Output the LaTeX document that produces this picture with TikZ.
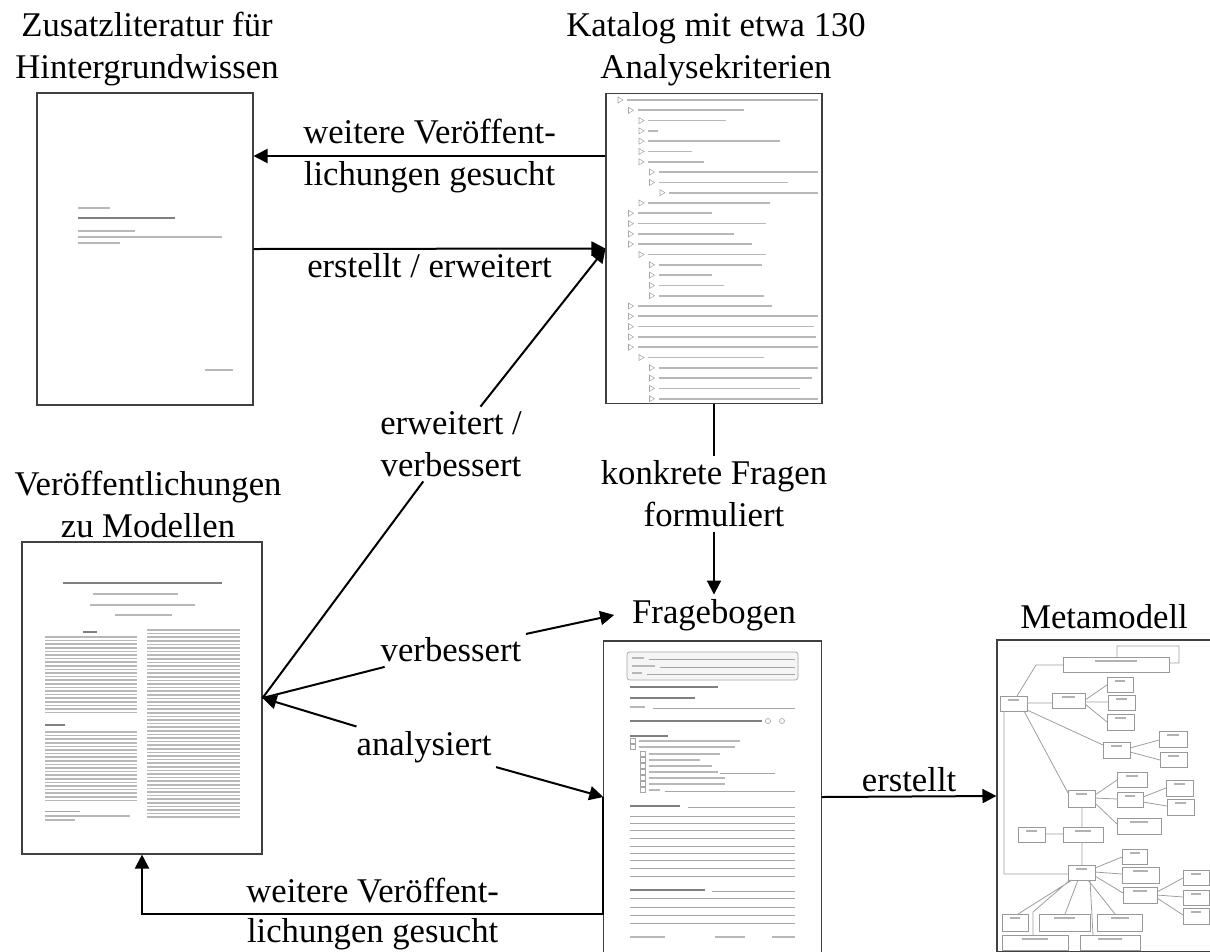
\documentclass[tikz,border=0pt]{standalone}
\usepackage{fontspec}
\setmainfont{Liberation Serif}
\usetikzlibrary{arrows.meta}

\tikzset{
  docbox/.style={draw=black!75, line width=0.8pt, inner sep=0pt},
  conn/.style={line width=1.5pt, -{Triangle[length=10.5pt,width=10.5pt]}},
  plainconn/.style={line width=1.5pt},
  lbl/.style={align=center},
  faint/.style={black!28, line width=1.3pt},
  heavy/.style={black!50, line width=1.8pt},
  rule/.style={black!35, line width=0.5pt},
  umlbox/.style={draw=black!40, line width=0.6pt},
  umlline/.style={black!38, line width=0.6pt},
}

\begin{document}
\begin{tikzpicture}[x=0.75pt,y=0.75pt,yscale=-1,xscale=1, font=\fontsize{26}{31.5}\selectfont]
    \useasboundingbox (0,0) rectangle (1210,951);

    %Shape: Documents
    \node[docbox, minimum width=162pt, minimum height=234pt] (zusatz) at (145,249) {};
    \node[docbox, minimum width=162pt, minimum height=233pt] (katalog) at (714,248.5) {};
    \node[docbox, minimum width=180pt, minimum height=234pt] (publ) at (142,698) {};
    \node[docbox, minimum width=163pt, minimum height=234pt] (frage) at (712.5,797) {};
    \node[docbox, minimum width=180pt, minimum height=234pt] (meta) at (1117,796) {};

    %Content: title page
    \draw[faint] (78,208) -- (110,208);
    \draw[heavy] (78,218) -- (175,218);
    \draw[faint] (78,231) -- (135,231) (78,237) -- (222,237) (78,243) -- (120,243) (205,370) -- (233,370);

    %Content: criteria tree
    \foreach \r/\l/\e in {1/0/818,2/1/744,3/2/726,4/2/658,5/2/780,6/2/692,7/2/704,8/3/818,9/3/788,10/4/818,
        11/2/770,12/1/712,13/1/766,14/1/734,15/1/752,16/2/766,17/3/762,18/3/712,19/3/724,20/3/764,
        21/1/772,22/1/818,23/1/814,24/1/816,25/1/818,26/2/764,27/3/818,28/3/812,29/3/800,30/3/818}{
      \pgfmathsetmacro{\ry}{89.7+10.3*\r}
      \pgfmathsetmacro{\rx}{627+10.5*\l}
      \draw[faint] (\rx,\ry) -- (\e,\ry);
      \draw[black!35, line width=0.4pt] (\rx-9,\ry-3) -- (\rx-4,\ry) -- (\rx-9,\ry+3) -- cycle;
    }

    %Content: paper
    \draw[heavy] (63,583) -- (222,583);
    \draw[faint] (93,594) -- (178,594) (90,605) -- (195,605) (115,615) -- (172,615);
    \draw[heavy] (83,632) -- (97,632) (45,725) -- (65,725);
    \foreach \y in {637,640.6,...,716} \draw[faint] (45,\y) -- (137,\y);
    \foreach \y in {732,735.6,...,804} \draw[faint] (45,\y) -- (137,\y);
    \foreach \y in {630,633.6,...,818} \draw[faint] (147,\y) -- (240,\y);
    \draw[rule] (45,811) -- (80,811);
    \draw[faint] (45,816) -- (130,816) (45,820) -- (75,820);

    %Content: questionnaire
    \draw[rule, fill=black!4, rounded corners=2pt] (627,652) rectangle (798,680);
    \foreach \y/\a in {658/644,666/655,673/642}{
      \draw[faint] (632,\y) -- (\a,\y);
      \draw[rule] (\a+5,\y+1.5) -- (795,\y+1.5);
    }
    \draw[heavy] (630,687) -- (718,687) (630,698) -- (695,698) (630,721) -- (762,721) (630,736) -- (668,736);
    \draw[faint] (630,707) -- (645,707);
    \draw[rule] (653,708.5) -- (795,708.5);
    \draw[rule] (768,721) circle (2.5) (782,721) circle (2.5);
    \foreach \y/\e in {741/740,747/735}{
      \draw[rule] (630,\y-2.5) rectangle (635,\y+2.5);
      \draw[faint] (639,\y) -- (\e,\y);
    }
    \foreach \y/\e in {754/720,760/700,766/712,772/718,778/725,784/725,790/660}{
      \draw[rule] (640,\y-2.5) rectangle (645,\y+2.5);
      \draw[faint] (649,\y) -- (\e,\y);
    }
    \draw[rule] (720,773.5) -- (775,773.5) (665,791.5) -- (795,791.5);
    \draw[heavy] (630,806) -- (680,806) (630,890) -- (705,890);
    \draw[rule] (688,807.5) -- (795,807.5) (712,891.5) -- (795,891.5);
    \foreach \y in {816,823,830,838,846,853,860,868,876,898,907,915,923} \draw[rule] (630,\y) -- (795,\y);
    \draw[faint] (630,937) -- (665,937) (715,937) -- (745,937) (772,937) -- (795,937);

    %Content: metamodel
    \foreach \a/\b/\c/\d in {1063/657/1169/672,1000/696/1027/711,1052/693/1085/708,1107/677/1133/692,
        1108/695/1135/710,1107/714/1134/730,1103/742/1130/758,1159/731/1187/747,1160/752/1187/767,
        1117/772/1147/787,1068/790/1095/807,1117/792/1143/807,1166/780/1193/796,1167/799/1194/815,
        1117/818/1161/834,1018/827/1045/842,1063/827/1103/842,1122/849/1147/864,1068/865/1095/880,
        1122/867/1159/883,1123/887/1157/903,1183/870/1209/885,1183/890/1209/905,1183/908/1209/924,
        1002/914/1028/931,1039/914/1090/931,1097/914/1142/931,1002/935/1068/950,1080/935/1140/950}{
      \draw[umlbox] (\a,\b) rectangle (\c,\d);
      \draw[black!30, line width=0.8pt] ({\a+0.3*(\c-\a)},{\b+4}) -- ({\c-0.3*(\c-\a)},{\b+4});
    }
    \draw[umlline]
      (1017,696) -- (1036,665) -- (1063,665)
      (1117,657) -- (1117,646) -- (1179,646) -- (1179,663) -- (1169,663)
      (1027,703) -- (1052,703)
      (1085,700) -- (1107,685) (1085,702) -- (1108,702) (1085,704) -- (1107,722)
      (1027,710) -- (1103,745)
      (1024,711) -- (1068,793)
      (1004,711) -- (1004,874) -- (1068,874)
      (1130,748) -- (1159,740) (1130,752) -- (1160,760)
      (1095,795) -- (1117,780) (1095,798) -- (1117,799) (1095,803) -- (1117,824)
      (1143,797) -- (1166,788) (1143,802) -- (1167,806)
      (1082,807) -- (1082,827)
      (1045,834) -- (1063,834)
      (1082,842) -- (1082,865)
      (1095,868) -- (1122,857) (1095,872) -- (1122,874) (1095,876) -- (1123,893)
      (1157,892) -- (1183,878) (1157,895) -- (1183,897) (1157,898) -- (1183,915)
      (1072,880) -- (1018,914) (1078,880) -- (1065,914) (1088,880) -- (1115,914)
      (1070,880) -- (1033,912) -- (1033,935) (1090,880) -- (1093,935);

    % Text Node
    \node[lbl] (tzusatz) at (147,49) {Zusatzliteratur für\\Hintergrundwissen};
    % Text Node
    \node[lbl] (tkatalog) at (716,49) {Katalog mit etwa 130\\Analysekriterien};
    % Text Node
    \node[lbl] (tpubl) at (148,504) {Veröffentlichungen\\zu Modellen};
    % Text Node
    \node[lbl] (tfrage) at (714,615) {Fragebogen};
    % Text Node
    \node[lbl] (tmeta) at (1104,617) {Metamodell};

    % Text Node
    \node[lbl] (kfragen) at (714,494) {konkrete Fragen\\formuliert};
    % Text Node
    \node[lbl] (lerw) at (451,444) {erweitert /\\verbessert};
    % Text Node
    \node[lbl] (lverb) at (451,650) {verbessert};
    % Text Node
    \node[lbl] (lanal) at (424,747) {analysiert};

    %Straight Lines
    \draw[conn] (katalog.west |- 0,156) -- (zusatz.east |- 0,156) node[lbl, midway] {weitere Veröffent-\\lichungen gesucht};
    %Straight Lines
    \draw[conn] (zusatz.east) -- (katalog.west) node[midway, below, inner sep=3pt] {erstellt / erweitert};
    %Straight Lines
    \draw[plainconn] (katalog.south) -- (kfragen);
    \draw[conn] (kfragen) -- (tfrage);
    %Straight Lines
    \draw[conn] (publ.east) -- (lerw) -- (katalog.west);
    \draw[conn] (publ.east) -- (lverb) -- ([xshift=-10pt]tfrage.west);
    \draw[conn] (lanal) -- (publ.east);
    \draw[conn] (lanal) -- (frage.west);
    %Straight Lines
    \draw[conn] (frage.west) -- (frage.west |- 0,914) -| node[lbl, pos=0.25, font=\fontsize{26}{30}\selectfont] {weitere Veröffent-\\lichungen gesucht} (publ.south);
    %Straight Lines
    \draw[conn] (frage.east) -- (meta.west) node[midway, above, inner sep=3pt] {erstellt};
\end{tikzpicture}
\end{document}
